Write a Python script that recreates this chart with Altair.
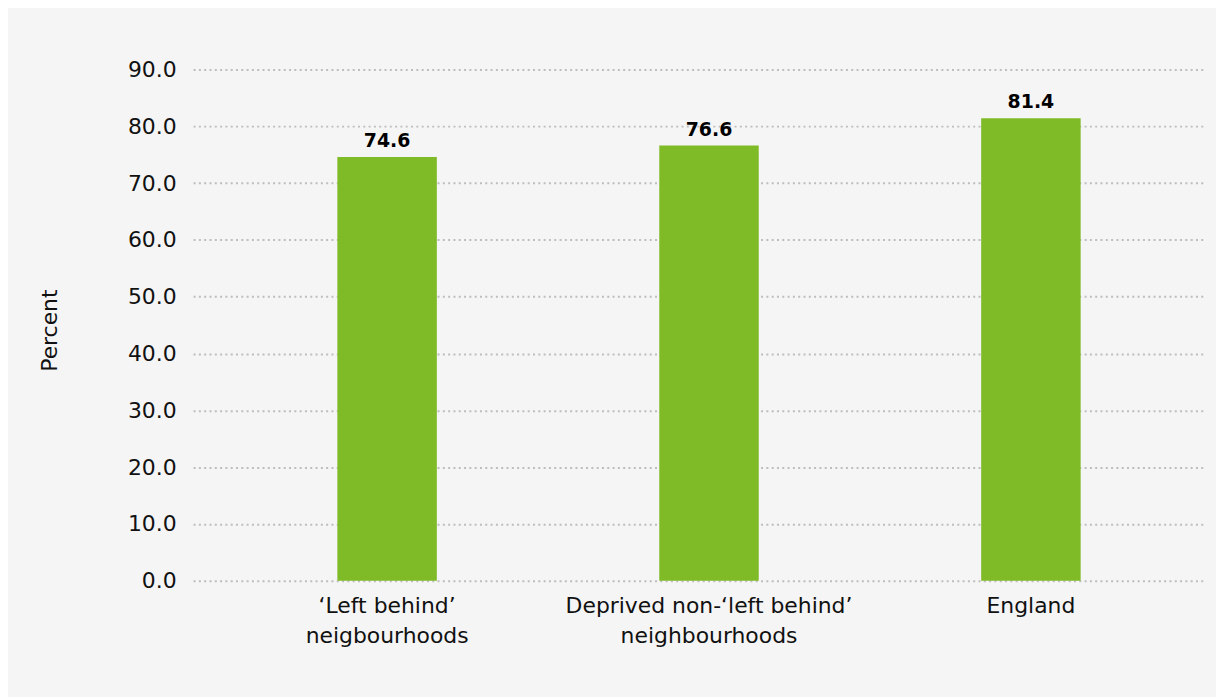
import altair as alt
import pandas as pd

categories = ["‘Left behind’|neigbourhoods",
              "Deprived non-‘left behind’|neighbourhoods",
              "England"]
values = [74.6, 76.6, 81.4]
y_ticks = [0, 10, 20, 30, 40, 50, 60, 70, 80, 90]

df = pd.DataFrame({"cat": categories, "val": values})

FONT = "DejaVu Sans"

x = alt.X("cat:N", sort=categories, title=None,
          scale=alt.Scale(paddingInner=0.691, paddingOuter=0.4158, align=0.539),
          axis=alt.Axis(labelExpr="split(datum.label, '|')", labelAngle=0,
                        labelFont=FONT, labelFontSize=22, labelColor="#111111",
                        labelLineHeight=30, labelPadding=15, ticks=False,
                        labelLimit=0, domain=False, grid=False, labelBaseline="top"))

y = alt.Y("val:Q", title="Percent",
          scale=alt.Scale(domain=[0, 90], nice=False),
          axis=alt.Axis(values=y_ticks, format=".1f", labelFont=FONT,
                        labelFontSize=22, labelColor="#111111", labelPadding=17,
                        ticks=False, domain=False, grid=True,
                        gridColor="#BDBDBD", gridDash=[2, 3.33], gridWidth=2,
                        titleFont=FONT, titleFontSize=22, titleFontWeight="normal",
                        titleColor="#111111", titleAngle=-90, titleX=-144,
                        titleY=262, titleAlign="center", titleBaseline="middle"))

bars = alt.Chart(df).mark_bar(color="#7FBA27").encode(x=x, y=y)
labels = alt.Chart(df).mark_text(font=FONT, fontSize=19, fontWeight="bold",
                                 color="#000000", dy=-10, baseline="alphabetic").encode(
    x=alt.X("cat:N", sort=categories),
    y=alt.Y("val:Q"),
    text=alt.Text("val:Q", format=".1f"))

chart = alt.layer(bars, labels).properties(
    width=1016, height=514,
    background="#F5F5F5",
    padding={"left": 186, "top": 60, "right": 12, "bottom": 115},
    autosize=alt.AutoSizeParams(type="none"),
).configure_view(stroke=None)

chart.save("out.html", embed_options={"renderer": "svg", "actions": False})
